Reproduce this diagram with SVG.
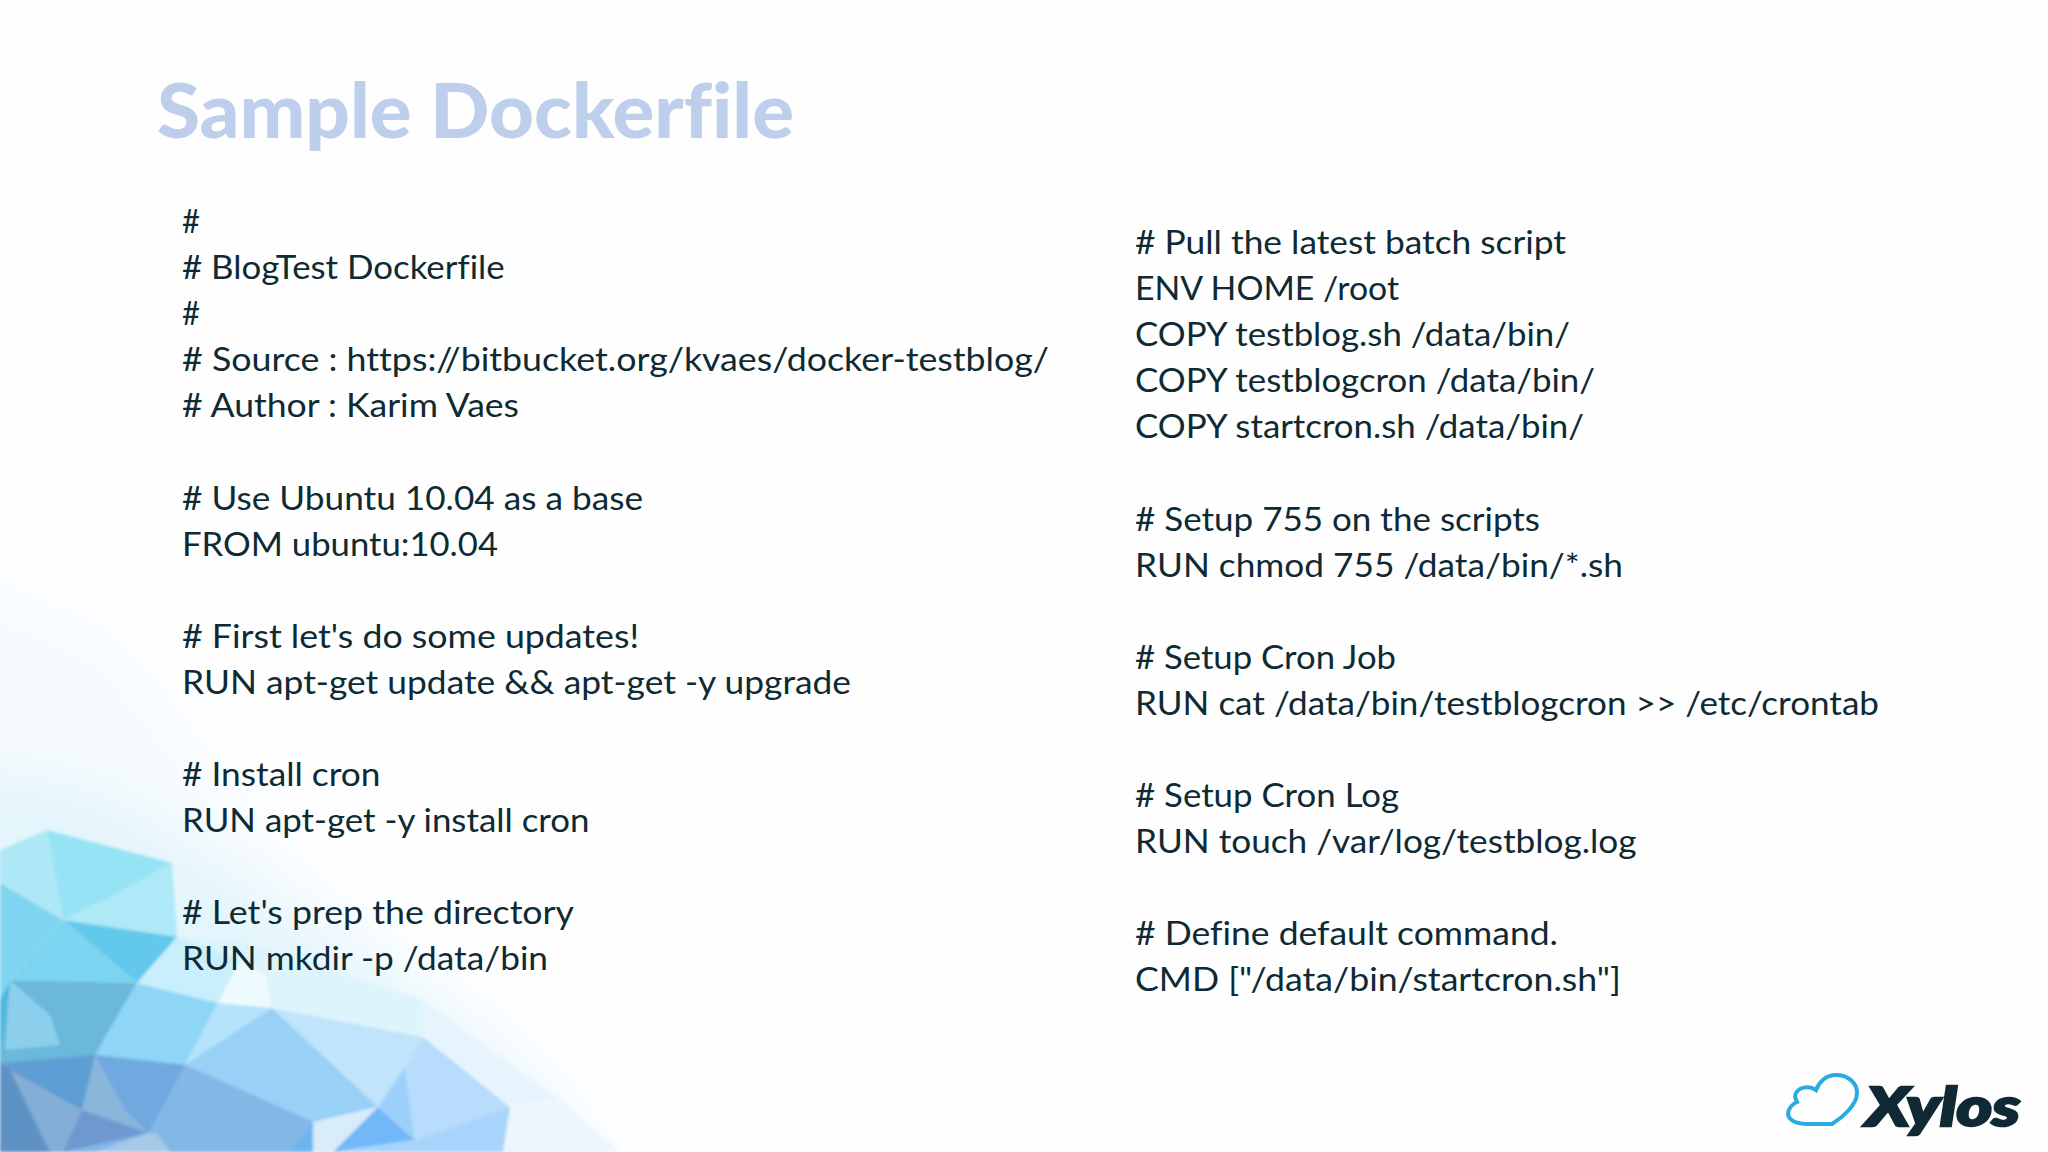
<svg xmlns="http://www.w3.org/2000/svg" width="2048" height="1152" viewBox="0 0 2048 1152">
<defs>
<style>
.t{font-family:"Lato","Liberation Sans",sans-serif;font-size:33.5px;fill:#0e2a33;font-variant-ligatures:none}
.h{font-family:"Lato","Liberation Sans",sans-serif;font-size:76px;font-weight:900;fill:#bdcfeb;font-variant-ligatures:none}
.x{font-family:"Lato","Liberation Sans",sans-serif;font-size:54px;font-weight:900;font-style:italic;fill:#0f2a35;stroke:#0f2a35;stroke-width:2.5}
</style>
<filter id="soft" x="-5%" y="-5%" width="110%" height="110%"><feGaussianBlur stdDeviation="1.5"/></filter>
<filter id="softer" x="-20%" y="-20%" width="140%" height="140%"><feGaussianBlur stdDeviation="28"/></filter>
</defs>
<rect width="2048" height="1152" fill="#fefeff"/>
<polygon points="-60,560 120,640 300,880 520,1040 620,1200 -60,1200" fill="#f6fbfe" filter="url(#softer)"/>
<polygon points="-60,760 100,790 240,880 420,1000 540,1100 600,1200 -60,1200" fill="#e4f5fc" filter="url(#softer)"/>
<g id="background" filter="url(#soft)">
<polygon points="423,1000 557,1098 510,1107 423,1037 300,1000" fill="#e8f4fd"/>
<polygon points="510,1107 557,1098 620,1152 503,1152" fill="#eef6fd"/>
<polygon points="177,937 272,1008 423,1037 423,1000 300,960 240,940" fill="#def4fc"/>
<polygon points="0,1000 95,1040 313,1100 333,1152 0,1152" fill="#82b7e6"/>
<polygon points="0,850 47,830 63,920 0,883" fill="#aee8f6"/>
<polygon points="47,830 172,863 115,895 63,920" fill="#97e3f6"/>
<polygon points="172,863 177,937 63,920 115,895" fill="#aee9f7"/>
<polygon points="0,883 63,920 10,980 0,1000" fill="#7fd5ef"/>
<polygon points="63,920 177,937 137,983" fill="#62c8ec"/>
<polygon points="63,920 137,983 10,980" fill="#7cd5f0"/>
<polygon points="0,1000 10,980 6,1040 0,1063" fill="#4cb8e0"/>
<polygon points="10,980 137,983 95,1055 0,1063" fill="#6ab8dc"/>
<polygon points="10,980 50,1015 60,1045 5,1050" fill="#8ccfec"/>
<polygon points="137,983 218,1003 185,1065 95,1055" fill="#8ed5f6"/>
<polygon points="177,937 137,983 218,1003 240,960" fill="#c8effb"/>
<polygon points="218,1003 272,1008 265,975 240,960" fill="#eefbfe"/>
<polygon points="218,1003 272,1008 230,1040 185,1065" fill="#b4e3fb"/>
<polygon points="272,1008 423,1037 405,1067 378,1107" fill="#c0e4fb"/>
<polygon points="272,1008 378,1107 313,1122 185,1065" fill="#98d0f6"/>
<polygon points="95,1055 125,1110 148,1133 82,1110" fill="#8ab6dc"/>
<polygon points="95,1055 185,1065 148,1133 125,1110" fill="#6fa9e0"/>
<polygon points="0,1063 95,1055 82,1110" fill="#5d9fd5"/>
<polygon points="0,1063 82,1110 50,1152 0,1152" fill="#5f92c4"/>
<polygon points="10,1070 82,1110 63,1152 50,1152" fill="#84aed6"/>
<polygon points="82,1110 148,1133 63,1152" fill="#6e98d0"/>
<polygon points="148,1133 157,1133 170,1152 95,1152" fill="#a8c8e8"/>
<polygon points="185,1065 313,1122 290,1152 170,1152 157,1133" fill="#82b7e6"/>
<polygon points="313,1122 378,1107 333,1152 313,1152" fill="#d8ecfa"/>
<polygon points="378,1107 415,1140 333,1152" fill="#72b8f7"/>
<polygon points="313,1122 290,1152 313,1152" fill="#6eb4f2"/>
<polygon points="378,1107 405,1067 415,1140" fill="#9cd0fa"/>
<polygon points="405,1067 423,1037 510,1107 415,1140" fill="#b8dcfb"/>
<polygon points="415,1140 510,1107 503,1152 333,1152" fill="#a8d4fb"/>
</g>
<text class="h" x="157" y="138" textLength="637" lengthAdjust="spacingAndGlyphs">Sample Dockerfile</text>
<g id="left-column">
<text class="t" x="182" y="233" textLength="18" lengthAdjust="spacingAndGlyphs">#</text>
<text class="t" x="182" y="279" textLength="322.6" lengthAdjust="spacingAndGlyphs"># BlogTest Dockerfile</text>
<text class="t" x="182" y="325" textLength="18" lengthAdjust="spacingAndGlyphs">#</text>
<text class="t" x="182" y="371" textLength="867" lengthAdjust="spacingAndGlyphs"># Source : https://bitbucket.org/kvaes/docker-testblog/</text>
<text class="t" x="182" y="417.3" textLength="337" lengthAdjust="spacingAndGlyphs"># Author : Karim Vaes</text>
<text class="t" x="182" y="509.5" textLength="461" lengthAdjust="spacingAndGlyphs"># Use Ubuntu 10.04 as a base</text>
<text class="t" x="182" y="555.5" textLength="316" lengthAdjust="spacingAndGlyphs">FROM ubuntu:10.04</text>
<text class="t" x="182" y="648" textLength="457" lengthAdjust="spacingAndGlyphs"># First let's do some updates!</text>
<text class="t" x="182" y="694" textLength="669" lengthAdjust="spacingAndGlyphs">RUN apt-get update &amp;&amp; apt-get -y upgrade</text>
<text class="t" x="182" y="786" textLength="198.5" lengthAdjust="spacingAndGlyphs"># Install cron</text>
<text class="t" x="182" y="832" textLength="407.5" lengthAdjust="spacingAndGlyphs">RUN apt-get -y install cron</text>
<text class="t" x="182" y="924" textLength="392" lengthAdjust="spacingAndGlyphs"># Let's prep the directory</text>
<text class="t" x="182" y="970" textLength="366" lengthAdjust="spacingAndGlyphs">RUN mkdir -p /data/bin</text>
</g>
<g id="right-column">
<text class="t" x="1135" y="254" textLength="431" lengthAdjust="spacingAndGlyphs"># Pull the latest batch script</text>
<text class="t" x="1135" y="300" textLength="264" lengthAdjust="spacingAndGlyphs">ENV HOME /root</text>
<text class="t" x="1135" y="346" textLength="435" lengthAdjust="spacingAndGlyphs">COPY testblog.sh /data/bin/</text>
<text class="t" x="1135" y="392" textLength="460" lengthAdjust="spacingAndGlyphs">COPY testblogcron /data/bin/</text>
<text class="t" x="1135" y="438.3" textLength="449" lengthAdjust="spacingAndGlyphs">COPY startcron.sh /data/bin/</text>
<text class="t" x="1135" y="530.5" textLength="405" lengthAdjust="spacingAndGlyphs"># Setup 755 on the scripts</text>
<text class="t" x="1135" y="576.5" textLength="488" lengthAdjust="spacingAndGlyphs">RUN chmod 755 /data/bin/*.sh</text>
<text class="t" x="1135" y="668.7" textLength="261" lengthAdjust="spacingAndGlyphs"># Setup Cron Job</text>
<text class="t" x="1135" y="714.7" textLength="744" lengthAdjust="spacingAndGlyphs">RUN cat /data/bin/testblogcron &gt;&gt; /etc/crontab</text>
<text class="t" x="1135" y="807" textLength="264" lengthAdjust="spacingAndGlyphs"># Setup Cron Log</text>
<text class="t" x="1135" y="853" textLength="501.5" lengthAdjust="spacingAndGlyphs">RUN touch /var/log/testblog.log</text>
<text class="t" x="1135" y="945" textLength="423" lengthAdjust="spacingAndGlyphs"># Define default command.</text>
<text class="t" x="1135" y="991" textLength="486" lengthAdjust="spacingAndGlyphs">CMD ["/data/bin/startcron.sh"]</text>
</g>
<g id="logo">
<path d="M1809 1124 H1832 C1842 1118 1857 1105 1857 1093 C1857 1082 1847 1075 1836 1075 C1826 1075 1819 1082 1816 1090 C1810 1086 1800 1086 1796 1093 C1794 1096 1796 1100 1797 1102 C1792 1104 1788 1109 1788 1114 C1789 1121 1796 1124 1809 1124 Z" fill="none" stroke="#29abe2" stroke-width="4"/>
<text class="x" x="1866" y="1126" textLength="154" lengthAdjust="spacingAndGlyphs">Xylos</text>
</g>
</svg>
